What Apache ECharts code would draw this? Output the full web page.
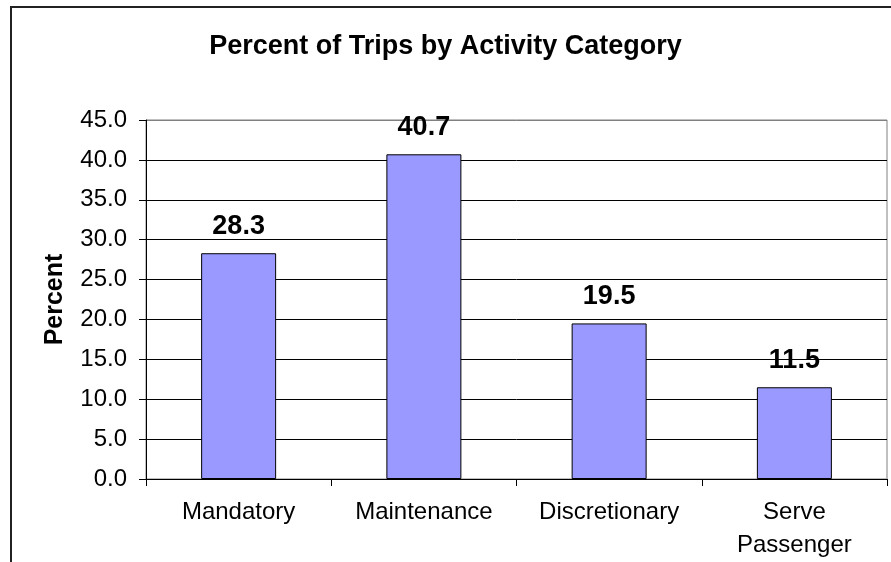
<!DOCTYPE html>
<html>
<head>
<meta charset="utf-8">
<script src="https://cdn.jsdelivr.net/npm/echarts@6/dist/echarts.min.js"></script>
<style>
  html, body { margin: 0; padding: 0; background: #fff; }
  #chart { width: 891px; height: 562px; }
</style>
</head>
<body>
<div id="chart"></div>
<script>
// Share of trips per activity category
const categories = ['Mandatory', 'Maintenance', 'Discretionary', 'Serve\nPassenger'];
const percents = [28.3, 40.7, 19.5, 11.5];
const yMin = 0;
const yMax = 45;
const yStep = 5;

const chart = echarts.init(document.getElementById('chart'), null, { renderer: 'canvas' });
const FONT = 'Liberation Sans, Arial, sans-serif';

// gridlines are black; the top one coincides with the grey plot frame
const splitColors = [];
for (let v = yMin; v <= yMax; v += yStep) splitColors.push(v === yMax ? '#808080' : '#000');

chart.setOption({
  backgroundColor: '#ffffff',
  animation: false,
  title: {
    text: 'Percent of Trips by Activity Category',
    left: 'center',
    top: 28,
    textStyle: { fontFamily: FONT, fontSize: 27, fontWeight: 'bold', color: '#000' }
  },
  graphic: [{
    type: 'rect',
    shape: { x: 11, y: 7, width: 900, height: 600 },
    style: { fill: 'none', stroke: '#222', lineWidth: 2 },
    silent: true,
    z: 0
  }],
  grid: {
    left: 146, right: 4, top: 120, bottom: 83,
    outerBoundsMode: 'none',
    containLabel: false,
    show: true,
    borderColor: '#808080',
    borderWidth: 1,
    backgroundColor: 'transparent'
  },
  xAxis: {
    type: 'category',
    data: categories,
    axisLine: { lineStyle: { color: '#000', width: 1 } },
    axisTick: { show: true, length: 7, alignWithLabel: false, lineStyle: { color: '#000' } },
    axisLabel: {
      fontFamily: FONT, fontSize: 24, color: '#000',
      margin: 17, lineHeight: 33, interval: 0
    },
    splitLine: { show: false }
  },
  yAxis: {
    type: 'value',
    min: yMin, max: yMax, interval: yStep,
    name: 'Percent',
    nameLocation: 'middle',
    nameRotate: 90,
    nameGap: 78,
    nameTextStyle: { fontFamily: FONT, fontSize: 25, fontWeight: 'bold', color: '#000' },
    axisLine: { show: true, lineStyle: { color: '#000', width: 1 } },
    axisTick: { show: true, length: 7, lineStyle: { color: '#000' } },
    axisLabel: {
      fontFamily: FONT, fontSize: 24, color: '#000', margin: 19,
      formatter: v => v.toFixed(1)
    },
    splitLine: {
      show: true,
      lineStyle: { color: splitColors, width: 1 }
    }
  },
  series: [{
    type: 'bar',
    data: percents,
    barWidth: 75,
    itemStyle: { color: '#9999FF', borderColor: '#000', borderWidth: 1 },
    label: {
      show: true,
      position: 'top',
      distance: 13,
      fontFamily: FONT, fontSize: 27, fontWeight: 'bold', color: '#000',
      formatter: p => p.value.toFixed(1)
    }
  }]
});
</script>
</body>
</html>
